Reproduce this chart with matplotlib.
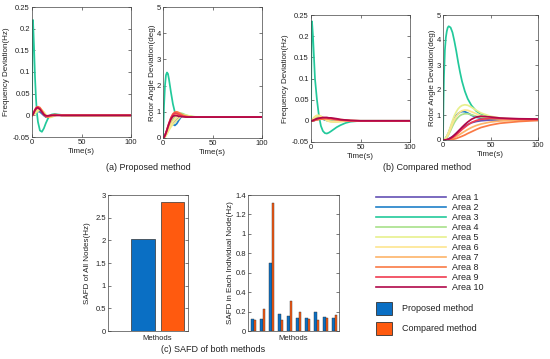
import matplotlib

matplotlib.use("Agg")
import matplotlib.pyplot as plt
from matplotlib.patches import Rectangle
from matplotlib.ticker import FuncFormatter

plt.rcParams["font.family"] = ["Liberation Sans", "DejaVu Sans"]

# ---- data ------------------------------------------------------------------
T = [0, 0.5, 1, 2, 3, 4, 5, 6, 8, 10, 12, 14, 16, 18, 20, 23, 26, 30, 35, 40, 50, 60, 80, 100]

AREAS = ["Area 1", "Area 2", "Area 3", "Area 4", "Area 5",
         "Area 6", "Area 7", "Area 8", "Area 9", "Area 10"]
AREA_COLORS = ["#6450b4", "#1f80c8", "#22c99b", "#a8e08a", "#e8f08e",
               "#fde590", "#fdb46a", "#fa7a45", "#f03c50", "#b0084a"]

# (a) proposed method: frequency deviation (Hz), one row per area
FREQ_A = [
    [0, 0, 0.001, 0.003, 0.005, 0.007, 0.008, 0.009, 0.008, 0.004, 0.0, -0.003, -0.004, -0.003, -0.001, 0.0, 0.001, 0, 0, 0, 0, 0, 0, 0],
    [0, 0, 0.001, 0.004, 0.007, 0.009, 0.011, 0.012, 0.010, 0.005, 0.0, -0.004, -0.005, -0.003, -0.001, 0.001, 0.001, 0, 0, 0, 0, 0, 0, 0],
    [0, 0.20, 0.22, 0.16, 0.09, 0.04, 0.005, -0.015, -0.035, -0.038, -0.030, -0.018, -0.008, -0.001, 0.002, 0.003, 0.002, 0.001, 0, 0, 0, 0, 0, 0],
    [0, 0, 0.001, 0.003, 0.005, 0.007, 0.009, 0.011, 0.012, 0.009, 0.004, -0.001, -0.004, -0.004, -0.002, 0.001, 0.001, 0, 0, 0, 0, 0, 0, 0],
    [0, 0, 0.0, 0.002, 0.004, 0.006, 0.008, 0.010, 0.013, 0.012, 0.008, 0.002, -0.003, -0.005, -0.004, -0.001, 0.001, 0.001, 0, 0, 0, 0, 0, 0],
    [0, 0, 0.001, 0.004, 0.007, 0.010, 0.012, 0.014, 0.015, 0.011, 0.005, 0.0, -0.003, -0.003, -0.002, 0, 0.001, 0, 0, 0, 0, 0, 0, 0],
    [0, 0, 0.002, 0.006, 0.010, 0.013, 0.016, 0.018, 0.017, 0.011, 0.004, -0.002, -0.004, -0.003, -0.001, 0.001, 0.001, 0, 0, 0, 0, 0, 0, 0],
    [0, 0, 0.002, 0.007, 0.012, 0.016, 0.019, 0.020, 0.018, 0.011, 0.003, -0.003, -0.004, -0.002, 0.0, 0.002, 0.001, 0, 0, 0, 0, 0, 0, 0],
    [0, 0, 0.002, 0.008, 0.013, 0.017, 0.019, 0.019, 0.015, 0.008, 0.001, -0.002, -0.002, -0.001, 0, 0, 0, 0, 0, 0, 0, 0, 0, 0],
    [0, 0, 0.002, 0.007, 0.012, 0.015, 0.017, 0.017, 0.014, 0.008, 0.002, -0.001, -0.001, 0, 0, 0, 0, 0, 0, 0, 0, 0, 0, 0],
]

# (a) proposed method: rotor angle deviation (deg)
ANGLE_A = [
    [0, 0, 0.02, 0.08, 0.15, 0.22, 0.30, 0.38, 0.48, 0.55, 0.62, 0.70, 0.77, 0.82, 0.84, 0.83, 0.81, 0.80, 0.80, 0.80, 0.80, 0.80, 0.80, 0.80],
    [0, 0, 0.02, 0.10, 0.20, 0.28, 0.35, 0.42, 0.55, 0.52, 0.48, 0.55, 0.68, 0.79, 0.85, 0.85, 0.82, 0.80, 0.80, 0.80, 0.80, 0.80, 0.80, 0.80],
    [0, 0.60, 1.20, 2.00, 2.40, 2.50, 2.45, 2.25, 1.75, 1.30, 0.98, 0.92, 0.90, 0.88, 0.86, 0.83, 0.82, 0.81, 0.80, 0.80, 0.80, 0.80, 0.80, 0.80],
    [0, 0, 0.01, 0.05, 0.12, 0.20, 0.30, 0.40, 0.58, 0.72, 0.83, 0.90, 0.94, 0.95, 0.93, 0.88, 0.84, 0.81, 0.80, 0.80, 0.80, 0.80, 0.80, 0.80],
    [0, 0, 0.01, 0.04, 0.09, 0.15, 0.22, 0.30, 0.42, 0.52, 0.60, 0.68, 0.75, 0.82, 0.86, 0.87, 0.85, 0.82, 0.80, 0.80, 0.80, 0.80, 0.80, 0.80],
    [0, 0, 0.01, 0.05, 0.11, 0.18, 0.26, 0.35, 0.50, 0.62, 0.72, 0.80, 0.86, 0.88, 0.87, 0.84, 0.82, 0.80, 0.80, 0.80, 0.80, 0.80, 0.80, 0.80],
    [0, 0, 0.02, 0.08, 0.16, 0.26, 0.37, 0.48, 0.68, 0.82, 0.90, 0.93, 0.92, 0.89, 0.86, 0.83, 0.81, 0.80, 0.80, 0.80, 0.80, 0.80, 0.80, 0.80],
    [0, 0, 0.02, 0.09, 0.19, 0.30, 0.42, 0.54, 0.76, 0.92, 0.99, 1.00, 0.97, 0.92, 0.87, 0.83, 0.81, 0.80, 0.80, 0.80, 0.80, 0.80, 0.80, 0.80],
    [0, 0, 0.03, 0.10, 0.20, 0.32, 0.45, 0.57, 0.77, 0.90, 0.95, 0.94, 0.90, 0.86, 0.83, 0.81, 0.80, 0.80, 0.80, 0.80, 0.80, 0.80, 0.80, 0.80],
    [0, 0, 0.03, 0.10, 0.20, 0.31, 0.43, 0.54, 0.72, 0.83, 0.86, 0.85, 0.83, 0.82, 0.81, 0.80, 0.80, 0.80, 0.80, 0.80, 0.80, 0.80, 0.80, 0.80],
]

# (b) compared method: frequency deviation (Hz)
FREQ_B = [
    [0, 0, 0, 0.001, 0.001, 0.002, 0.002, 0.003, 0.004, 0.005, 0.005, 0.005, 0.005, 0.005, 0.004, 0.003, 0.002, 0.001, 0, 0, 0, 0, 0, 0],
    [0, 0, 0.001, 0.002, 0.004, 0.005, 0.006, 0.007, 0.007, 0.006, 0.004, 0.002, 0.001, 0, -0.001, -0.001, -0.001, 0, 0, 0, 0, 0, 0, 0],
    [0, 0.20, 0.235, 0.20, 0.15, 0.10, 0.075, 0.05, 0.012, -0.012, -0.024, -0.029, -0.030, -0.028, -0.025, -0.020, -0.015, -0.010, -0.005, -0.002, 0, 0, 0, 0],
    [0, 0, 0.001, 0.003, 0.005, 0.007, 0.008, 0.009, 0.009, 0.008, 0.006, 0.003, 0.001, 0, -0.001, -0.001, -0.001, 0, 0, 0, 0, 0, 0, 0],
    [0, 0, 0.002, 0.005, 0.008, 0.010, 0.012, 0.013, 0.013, 0.011, 0.008, 0.004, 0.001, -0.001, -0.002, -0.003, -0.003, -0.002, -0.001, 0, 0, 0, 0, 0],
    [0, 0, 0.001, 0.004, 0.007, 0.009, 0.011, 0.012, 0.012, 0.010, 0.007, 0.004, 0.001, -0.001, -0.002, -0.002, -0.002, -0.001, 0, 0, 0, 0, 0, 0],
    [0, 0, 0, 0.001, 0.002, 0.003, 0.004, 0.004, 0.005, 0.005, 0.005, 0.005, 0.005, 0.004, 0.004, 0.003, 0.002, 0.001, 0, 0, 0, 0, 0, 0],
    [0, 0, 0, 0, 0.001, 0.001, 0.002, 0.002, 0.003, 0.004, 0.004, 0.005, 0.005, 0.005, 0.005, 0.005, 0.004, 0.003, 0.002, 0.001, 0, 0, 0, 0],
    [0, 0, 0, 0.001, 0.002, 0.003, 0.004, 0.005, 0.006, 0.007, 0.007, 0.007, 0.007, 0.006, 0.006, 0.004, 0.003, 0.002, 0.001, 0, 0, 0, 0, 0],
    [0, 0, 0, 0.001, 0.002, 0.003, 0.004, 0.005, 0.006, 0.007, 0.008, 0.008, 0.008, 0.007, 0.007, 0.006, 0.005, 0.003, 0.002, 0.001, 0, 0, 0, 0],
]

# (b) compared method: rotor angle deviation (deg)
ANGLE_B = [
    [0, 0, 0, 0.005, 0.01, 0.02, 0.03, 0.05, 0.09, 0.14, 0.20, 0.27, 0.34, 0.41, 0.47, 0.55, 0.62, 0.69, 0.74, 0.77, 0.80, 0.80, 0.80, 0.80],
    [0, 0, 0.01, 0.04, 0.09, 0.15, 0.22, 0.30, 0.50, 0.70, 0.87, 0.98, 1.06, 1.11, 1.14, 1.13, 1.08, 0.99, 0.91, 0.87, 0.83, 0.82, 0.80, 0.80],
    [0, 1.50, 2.50, 3.60, 4.10, 4.35, 4.50, 4.55, 4.50, 4.30, 3.95, 3.55, 3.10, 2.70, 2.35, 1.95, 1.65, 1.38, 1.16, 1.03, 0.91, 0.86, 0.81, 0.79],
    [0, 0, 0.01, 0.03, 0.06, 0.10, 0.15, 0.22, 0.38, 0.55, 0.70, 0.82, 0.91, 0.98, 1.02, 1.05, 1.05, 1.01, 0.95, 0.91, 0.86, 0.83, 0.80, 0.80],
    [0, 0, 0.01, 0.04, 0.09, 0.16, 0.24, 0.33, 0.55, 0.78, 0.98, 1.13, 1.25, 1.33, 1.38, 1.41, 1.39, 1.31, 1.19, 1.08, 0.95, 0.88, 0.82, 0.80],
    [0, 0, 0.01, 0.03, 0.07, 0.12, 0.18, 0.26, 0.45, 0.65, 0.82, 0.95, 1.05, 1.12, 1.17, 1.20, 1.19, 1.13, 1.05, 0.98, 0.90, 0.85, 0.81, 0.80],
    [0, 0, 0, 0, 0.005, 0.01, 0.015, 0.02, 0.04, 0.07, 0.10, 0.14, 0.18, 0.23, 0.28, 0.35, 0.42, 0.50, 0.58, 0.64, 0.72, 0.76, 0.79, 0.80],
    [0, 0, 0, 0, 0, 0, 0.005, 0.008, 0.015, 0.025, 0.04, 0.06, 0.09, 0.12, 0.15, 0.20, 0.26, 0.33, 0.42, 0.50, 0.60, 0.67, 0.74, 0.78],
    [0, 0, 0, 0, 0.005, 0.01, 0.02, 0.03, 0.06, 0.10, 0.15, 0.21, 0.28, 0.35, 0.42, 0.51, 0.60, 0.70, 0.78, 0.83, 0.86, 0.85, 0.83, 0.82],
    [0, 0, 0, 0.003, 0.008, 0.015, 0.025, 0.04, 0.08, 0.13, 0.20, 0.27, 0.35, 0.43, 0.51, 0.62, 0.72, 0.83, 0.92, 0.95, 0.92, 0.88, 0.85, 0.84],
]

METHODS = ["Proposed method", "Compared method"]
METHOD_COLORS = ["#0a6fc4", "#ff5a0f"]
SAFD_ALL = [2.03, 2.85]
SAFD_PROPOSED = [0.12, 0.12, 0.70, 0.18, 0.15, 0.13, 0.13, 0.20, 0.14, 0.13]
SAFD_COMPARED = [0.11, 0.23, 1.32, 0.11, 0.31, 0.20, 0.12, 0.11, 0.13, 0.16]

W, H = 550, 359
AX_COL = "#444444"
TXT = "#222222"


def px_axes(fig, left, top, right, bottom):
    return fig.add_axes([left / W, 1 - bottom / H, (right - left) / W, (bottom - top) / H])


def style(ax, yticks, ylab, labx):
    fmt = FuncFormatter(lambda v, p: "0" if abs(v) < 1e-9 else f"{round(v, 6):g}")
    ax.set_yticks(yticks)
    ax.yaxis.set_major_formatter(fmt)
    ax.set_ylim(yticks[0], yticks[-1])
    ax.tick_params(direction="in", length=2, width=0.5, labelsize=5.5, pad=1.5,
                   top=True, right=True, colors=AX_COL, labelcolor=TXT)
    for s in ax.spines.values():
        s.set_linewidth(0.5)
        s.set_color(AX_COL)
    ax.set_ylabel(ylab, fontsize=5.8, color=TXT)
    ax.yaxis.set_label_coords(labx, 0.5)


def time_panel(ax, rows, yticks, ylab, labx):
    for row, c in zip(rows, AREA_COLORS):
        ax.plot(T, row, color=c, lw=1.25, solid_joinstyle="round")
    ax.set_xlim(0, 100)
    ax.set_xticks([0, 50, 100])
    style(ax, yticks, ylab, labx)
    ax.set_xlabel("Time(s)", fontsize=5.8, labelpad=1.2, color=TXT)


fig = plt.figure(figsize=(5.5, 3.59), dpi=100)

freq_ticks = [-0.05, 0, 0.05, 0.1, 0.15, 0.2, 0.25]
angle_ticks = [0, 1, 2, 3, 4, 5]

ax1 = px_axes(fig, 32, 7, 131, 137)
time_panel(ax1, FREQ_A, freq_ticks, "Frequency Deviation(Hz)", -0.22)
ax2 = px_axes(fig, 163, 7, 262, 138)
time_panel(ax2, ANGLE_A, angle_ticks, "Rotor Angle Deviation(deg)", -0.07)
ax3 = px_axes(fig, 311, 15, 410, 142)
time_panel(ax3, FREQ_B, freq_ticks, "Frequency Deviation(Hz)", -0.22)
ax4 = px_axes(fig, 443, 15, 538, 140)
time_panel(ax4, ANGLE_B, angle_ticks, "Rotor Angle Deviation(deg)", -0.074)

# SAFD of all nodes
ax5 = px_axes(fig, 108, 195, 188, 331)
ax5.bar([0.5, 1.5], SAFD_ALL, width=0.8, color=METHOD_COLORS,
        edgecolor="#333333", linewidth=0.5)
ax5.set_xlim(-0.695, 2.036)
ax5.set_xticks([1.0])
ax5.set_xticklabels(["Methods"], fontsize=5.8)
style(ax5, [0, 0.5, 1, 1.5, 2, 2.5, 3], "SAFD of All Nodes(Hz)", -0.21)
ax5.tick_params(axis="x", length=0, pad=3)

# SAFD per node
ax6 = px_axes(fig, 248, 195, 339, 331)
idx = list(range(1, len(SAFD_PROPOSED) + 1))
ax6.bar([i - 0.15 for i in idx], SAFD_PROPOSED, width=0.3, color=METHOD_COLORS[0],
        edgecolor="#333333", linewidth=0.3)
ax6.bar([i + 0.15 for i in idx], SAFD_COMPARED, width=0.3, color=METHOD_COLORS[1],
        edgecolor="#333333", linewidth=0.3)
ax6.set_xlim(0.37, 10.5)
ax6.set_xticks([5.45])
ax6.set_xticklabels(["Methods"], fontsize=5.8)
style(ax6, [0, 0.2, 0.4, 0.6, 0.8, 1, 1.2, 1.4], "SAFD in Each Individual Node(Hz)", -0.155)
ax6.tick_params(axis="x", length=0, pad=3)

# overlay in pixel coordinates: captions and legend
ov = fig.add_axes([0, 0, 1, 1])
ov.set_xlim(0, W)
ov.set_ylim(H, 0)
ov.axis("off")

ov.text(148, 168, "(a) Proposed method", ha="center", va="center", fontsize=6.5, color=TXT)
ov.text(427, 168, "(b) Compared method", ha="center", va="center", fontsize=6.5, color=TXT)
ov.text(213, 350, "(c) SAFD of both methods", ha="center", va="center", fontsize=6.5, color=TXT)

for i, (name, c) in enumerate(zip(AREAS, AREA_COLORS)):
    y = 197 + 10 * i
    ov.plot([376, 446], [y, y], color=c, lw=1.2)
    ov.text(452, y, name, ha="left", va="center", fontsize=6.5, color=TXT)

for i, (name, c) in enumerate(zip(METHODS, METHOD_COLORS)):
    y = 302 + 20 * i
    ov.add_patch(Rectangle((376, y), 16, 13, facecolor=c, edgecolor="#333333", lw=0.6))
    ov.text(402, y + 6.5, name, ha="left", va="center", fontsize=6.5, color=TXT)

fig.savefig("out.png", dpi=100)
